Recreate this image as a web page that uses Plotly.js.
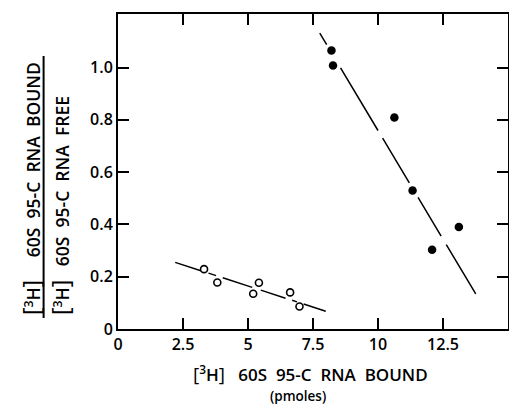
<!DOCTYPE html>
<html>
<head>
<meta charset="utf-8">
<script src="https://cdn.plot.ly/plotly-3.0.1.min.js"></script>
<style>html,body{margin:0;padding:0;background:#fff;}#chart{width:509px;height:404px;}</style>
</head>
<body>
<div id="chart"></div>
<script>
// Data
var boundFilled = [8.21, 8.27, 10.63, 11.33, 12.08, 13.11];
var ratioFilled = [1.065, 1.008, 0.809, 0.530, 0.303, 0.390];
var boundOpen = [3.31, 3.82, 5.20, 5.42, 6.62, 6.98];
var ratioOpen = [0.229, 0.178, 0.135, 0.177, 0.140, 0.086];
var fitUpperX = [7.76, 13.76];
var fitUpperY = [1.132, 0.134];
var fitLowerX = [2.20, 7.99];
var fitLowerY = [0.255, 0.068];
var xTickVals = [0, 2.5, 5, 7.5, 10, 12.5];
var xTickText = ["0", "2.5", "5", "7.5", "10", "12.5"];
var yTickVals = [0, 0.2, 0.4, 0.6, 0.8, 1.0];
var yTickText = ["0", "0.2", "0.4", "0.6", "0.8", "1.0"];

var W = 509, H = 404;
var M = {l: 117.5, r: 1, t: 14, b: 75};
var pw = W - M.l - M.r, ph = H - M.t - M.b;
function px(x) { return (x - M.l) / pw; }
function py(y) { return (H - M.b - y) / ph; }

var FONT = "Open Sans, Liberation Sans, Arial, sans-serif";
var SP = "\u00A0 ";
function h3(sz) {
  var br = function (s) { return "<span style='font-size:" + sz + "px;font-weight:400'>" + s + "</span>"; };
  return br("[") + "<sup>3</sup>H" + br("]");
}
function lbl(words, sz, lead) { return h3(sz) + lead + words.join(SP); }

var traces = [
  {x: fitUpperX, y: fitUpperY, mode: "lines", type: "scatter",
   line: {color: "#000", width: 1.5, dash: "13.5px,27px,73px,9px,52px,17px,45px,10px,59px"}, hoverinfo: "skip"},
  {x: fitLowerX, y: fitLowerY, mode: "lines", type: "scatter",
   line: {color: "#000", width: 1.5, dash: "27px,8px,8px,7px,31px,9px,26px,7px,5px,7px,25px"}, hoverinfo: "skip"},
  {x: boundFilled, y: ratioFilled, mode: "markers", type: "scatter",
   marker: {symbol: "circle", size: 8.5, color: "#000"}},
  {x: boundOpen, y: ratioOpen, mode: "markers", type: "scatter",
   marker: {symbol: "circle-open", size: 7, color: "#000", line: {width: 1.6, color: "#000"}}}
];

var tf = {family: FONT, size: 16, color: "#000", weight: 600};

var layout = {
  width: W, height: H,
  margin: M,
  paper_bgcolor: "#fff", plot_bgcolor: "#fff",
  showlegend: false,
  font: tf,
  xaxis: {
    range: [0, 15], tickvals: xTickVals, ticktext: xTickText,
    ticks: "inside", ticklen: 11, tickwidth: 2, tickcolor: "#000",
    showline: true, linewidth: 2, linecolor: "#000", mirror: "ticks",
    showgrid: false, zeroline: false, fixedrange: true,
    tickfont: tf
  },
  yaxis: {
    range: [0, 1.205], tickvals: yTickVals, ticktext: yTickText,
    ticks: "inside", ticklen: 11, tickwidth: 2, tickcolor: "#000",
    showline: true, linewidth: 2, linecolor: "#000", mirror: "ticks",
    showgrid: false, zeroline: false, fixedrange: true,
    tickfont: tf
  },
  shapes: [
    {type: "line", xref: "paper", yref: "paper", x0: px(43), x1: px(43), y0: py(56), y1: py(318),
     line: {color: "#000", width: 2}}
  ],
  annotations: [
    {xref: "paper", yref: "paper", x: px(30), y: py(317), xanchor: "center", yanchor: "bottom",
     textangle: -90, showarrow: false, text: lbl(["60S", "95-C", "RNA", "BOUND"], 23, "\u00A0\u00A0\u00A0\u00A0 "),
     font: {family: FONT, size: 17.5, color: "#000", weight: 600}},
    {xref: "paper", yref: "paper", x: px(59), y: py(317), xanchor: "center", yanchor: "bottom",
     textangle: -90, showarrow: false, text: lbl(["60S", "95-C", "RNA", "FREE"], 23, "\u00A0\u00A0 "),
     font: {family: FONT, size: 17.5, color: "#000", weight: 600}},
    {xref: "paper", yref: "paper", x: px(310.5), y: py(374), xanchor: "center", yanchor: "middle",
     showarrow: false, text: lbl(["60S", "95-C", "RNA", "BOUND"], 19, "\u00A0\u00A0 "),
     font: {family: FONT, size: 17, color: "#000", weight: 600}},
    {xref: "paper", yref: "paper", x: px(297.5), y: py(395.5), xanchor: "center", yanchor: "middle",
     showarrow: false, text: "(pmoles)",
     font: {family: FONT, size: 13.5, color: "#000", weight: 600}}
  ]
};

Plotly.newPlot("chart", traces, layout, {displayModeBar: false, staticPlot: true});
</script>
</body>
</html>
